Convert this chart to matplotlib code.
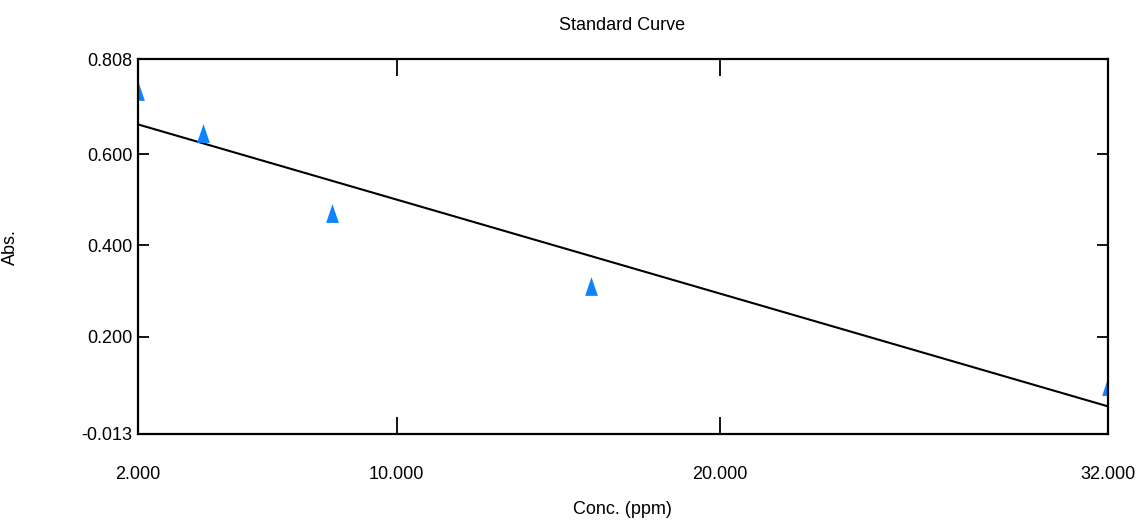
import numpy as np
import matplotlib
matplotlib.use("Agg")
import matplotlib.pyplot as plt

plt.rcParams['font.family'] = ['Liberation Sans', 'DejaVu Sans']

# Data
conc = [2.0, 4.0, 8.0, 16.0, 32.0]
absorb = [0.737, 0.645, 0.470, 0.311, 0.091]
x_ticks = [2.0, 10.0, 20.0, 32.0]
x_tick_labels = ["2.000", "10.000", "20.000", "32.000"]
y_ticks = [-0.013, 0.200, 0.400, 0.600, 0.808]
y_tick_labels = ["-0.013", "0.200", "0.400", "0.600", "0.808"]

W, H = 1137, 524
fig = plt.figure(figsize=(W / 100, H / 100), dpi=100)
ax = fig.add_axes([138 / W, 1 - 434 / H, (1108 - 138) / W, (434 - 59) / H])

# Linear fit line
slope, intercept = np.polyfit(conc, absorb, 1)
xf = np.array([x_ticks[0], x_ticks[-1]])
ax.plot(xf, slope * xf + intercept, color='black', lw=1.5)

tri = [(-0.34, -0.5), (0.34, -0.5), (0.0, 0.5), (-0.34, -0.5)]
ax.plot(conc, absorb, linestyle='none', marker=tri, color='#0A84FF',
        markersize=13.5, markeredgewidth=0, clip_on=True)

ax.set_xlim(x_ticks[0], x_ticks[-1])
ax.set_ylim(y_ticks[0], y_ticks[-1])
ax.set_xticks(x_ticks)
ax.set_xticklabels(x_tick_labels)
ax.set_yticks(y_ticks)
ax.set_yticklabels(y_tick_labels)

for s in ax.spines.values():
    s.set_linewidth(1.6)

ax.tick_params(axis='x', direction='in', length=12.5, width=1.3, pad=23,
               labelsize=13, top=True)
ax.tick_params(axis='y', direction='in', length=8, width=1.3, pad=4,
               labelsize=13, right=True)

fig.text(622 / W, 1 - 26 / H, "Standard Curve", ha='center', va='center', fontsize=13)
fig.text(622 / W, 1 - 510 / H, "Conc. (ppm)", ha='center', va='center', fontsize=13)
fig.text(10 / W, 1 - 247 / H, "Abs.", ha='center', va='center', rotation=90, fontsize=13)

fig.savefig("out.png", dpi=100)
